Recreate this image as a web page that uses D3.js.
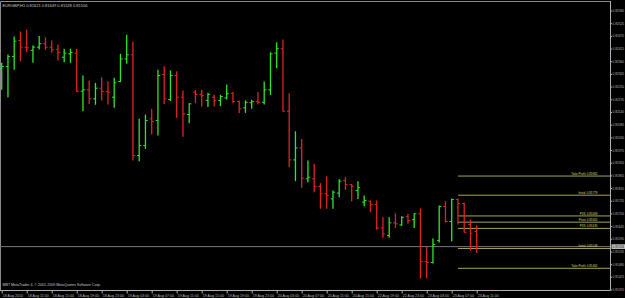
<!DOCTYPE html>
<html>
<head>
<meta charset="utf-8">
<script src="https://d3js.org/d3.v7.min.js"></script>
<style>
  body { margin: 0; background: #000; }
  text { font-family: "Liberation Sans", Arial, sans-serif; }
</style>
</head>
<body>
<div id="chart"></div>
<script>

// chart data (hourly EURGBP bars, 18 Aug 07:00 .. 23 Aug 11:00)
var symbol = "EURGBP,H1";
var copyright = "MBT MetaTrader 4, \u00a9 2001-2009 MetaQuotes Software Corp.";

var openPrices = [
  0.82327, 0.82337, 0.82380, 0.82450, 0.82421, 0.82407, 0.82421, 0.82436, 0.82421, 0.82410,
  0.82377, 0.82392, 0.82395, 0.82230, 0.82236, 0.82197, 0.82243, 0.82229, 0.82204, 0.82272,
  0.82370, 0.82388, 0.81951, 0.81994, 0.82110, 0.82103, 0.82302, 0.82194, 0.82298, 0.82204,
  0.82129, 0.82226, 0.82216, 0.82190, 0.82204, 0.82190, 0.82201, 0.82221, 0.82185, 0.82158,
  0.82180, 0.82185, 0.82182, 0.82236, 0.82395, 0.82414, 0.82143, 0.81932, 0.81984, 0.81850,
  0.81850, 0.81817, 0.81785, 0.81763, 0.81788, 0.81843, 0.81825, 0.81799, 0.81749, 0.81753,
  0.81739, 0.81637, 0.81604, 0.81659, 0.81650, 0.81687, 0.81673, 0.81698, 0.81491, 0.81487,
  0.81582, 0.81730, 0.81665, 0.81760, 0.81743, 0.81652, 0.81621
];
var highPrices = [
  0.82353, 0.82389, 0.82467, 0.82489, 0.82498, 0.82428, 0.82469, 0.82464, 0.82450, 0.82433,
  0.82414, 0.82414, 0.82414, 0.82298, 0.82276, 0.82266, 0.82291, 0.82272, 0.82288, 0.82392,
  0.82475, 0.82446, 0.82110, 0.82129, 0.82154, 0.82323, 0.82338, 0.82320, 0.82317, 0.82233,
  0.82178, 0.82236, 0.82236, 0.82223, 0.82216, 0.82214, 0.82259, 0.82226, 0.82190, 0.82190,
  0.82193, 0.82226, 0.82272, 0.82399, 0.82442, 0.82454, 0.82221, 0.82056, 0.82023, 0.81929,
  0.81915, 0.81831, 0.81861, 0.81799, 0.81848, 0.81857, 0.81828, 0.81840, 0.81778, 0.81756,
  0.81756, 0.81683, 0.81683, 0.81701, 0.81688, 0.81698, 0.81701, 0.81722, 0.81556, 0.81591,
  0.81734, 0.81753, 0.81765, 0.81765, 0.81747, 0.81673, 0.81649
];
var lowPrices = [
  0.82236, 0.82204, 0.82323, 0.82360, 0.82399, 0.82353, 0.82411, 0.82410, 0.82397, 0.82363,
  0.82356, 0.82353, 0.82226, 0.82143, 0.82175, 0.82171, 0.82190, 0.82172, 0.82158, 0.82269,
  0.82349, 0.81929, 0.81926, 0.81980, 0.82042, 0.82038, 0.82175, 0.82187, 0.82115, 0.82033,
  0.82091, 0.82178, 0.82164, 0.82161, 0.82164, 0.82165, 0.82194, 0.82178, 0.82135, 0.82136,
  0.82154, 0.82172, 0.82172, 0.82214, 0.82330, 0.82142, 0.81900, 0.81840, 0.81811, 0.81835,
  0.81792, 0.81720, 0.81720, 0.81720, 0.81770, 0.81802, 0.81753, 0.81763, 0.81731, 0.81705,
  0.81629, 0.81594, 0.81594, 0.81637, 0.81647, 0.81655, 0.81637, 0.81418, 0.81418, 0.81483,
  0.81574, 0.81660, 0.81579, 0.81652, 0.81617, 0.81539, 0.81528
];
var closePrices = [
  0.82337, 0.82380, 0.82447, 0.82421, 0.82418, 0.82421, 0.82436, 0.82421, 0.82410, 0.82398,
  0.82395, 0.82398, 0.82230, 0.82236, 0.82197, 0.82243, 0.82229, 0.82226, 0.82266, 0.82370,
  0.82388, 0.81951, 0.81994, 0.82103, 0.82099, 0.82298, 0.82197, 0.82298, 0.82204, 0.82132,
  0.82175, 0.82216, 0.82211, 0.82216, 0.82190, 0.82207, 0.82219, 0.82185, 0.82154, 0.82182,
  0.82185, 0.82182, 0.82236, 0.82392, 0.82414, 0.82143, 0.81932, 0.81984, 0.81853, 0.81857,
  0.81817, 0.81785, 0.81778, 0.81792, 0.81840, 0.81825, 0.81818, 0.81811, 0.81756, 0.81739,
  0.81637, 0.81611, 0.81659, 0.81655, 0.81683, 0.81669, 0.81698, 0.81491, 0.81487, 0.81565,
  0.81730, 0.81665, 0.81760, 0.81743, 0.81618, 0.81614, 0.81556
];

var timeTicks = [0, 4, 8, 12, 16, 20, 24, 28, 32, 36, 40, 44, 48, 52, 56, 60, 64, 68, 72, 76];
var timeLabels = ["18 Aug 2010", "18 Aug 11:00", "18 Aug 15:00", "18 Aug 19:00", "18 Aug 23:00",
  "19 Aug 03:00", "19 Aug 07:00", "19 Aug 11:00", "19 Aug 15:00", "19 Aug 19:00", "19 Aug 23:00",
  "20 Aug 03:00", "20 Aug 07:00", "20 Aug 11:00", "20 Aug 15:00", "22 Aug 19:00", "22 Aug 23:00",
  "23 Aug 03:00", "23 Aug 07:00", "23 Aug 11:00"];

var priceTicks = [0.82580, 0.82525, 0.82470, 0.82415, 0.82360, 0.82305, 0.82250, 0.82195,
  0.82140, 0.82085, 0.82030, 0.81975, 0.81920, 0.81865, 0.81810, 0.81755, 0.81700, 0.81645,
  0.81590, 0.81535, 0.81480, 0.81425, 0.81370];

// pivot / trade levels drawn from bar 73 to the right edge
var levelNames = ["Take Profit", "Initial", "P3S", "Pivot", "P3S", "Initial", "Take Profit"];
var levelValues = [0.81862, 0.81779, 0.81689, 0.81662, 0.81635, 0.81548, 0.81462];
var levelStart = 73;

var width = 625;
var height = 298;
var plotRight = 610.5;
var plotBottom = 290.5;

var x = d3.scaleLinear()
    .domain([0, openPrices.length - 1])
    .range([1.7, 476.7]);

var y = d3.scaleLinear()
    .domain([0.81370, 0.82580])
    .range([289.5, 10.5]);

var fmt = d3.format(".5f");

var svg = d3.select("#chart")
    .append("svg")
    .attr("width", width)
    .attr("height", height)
    .style("background", "#000")
    .style("display", "block");

// frame
svg.append("path")
    .attr("d", "M0.5," + plotBottom + "V1.5H" + plotRight)
    .attr("fill", "none")
    .attr("stroke", "#8a8a8a")
    .attr("stroke-width", 1);

// bid line
var lastClose = closePrices[closePrices.length - 1];
svg.append("line")
    .attr("x1", 0).attr("x2", plotRight)
    .attr("y1", y(lastClose)).attr("y2", y(lastClose))
    .attr("stroke", "#77778a")
    .attr("stroke-width", 1);

// level lines
var levels = svg.append("g").attr("class", "levels");
levelValues.forEach(function (v, i) {
    levels.append("line")
        .attr("x1", x(levelStart)).attr("x2", plotRight)
        .attr("y1", y(v)).attr("y2", y(v))
        .attr("stroke", "#a5a55a")
        .attr("stroke-width", 1);
    levels.append("text")
        .attr("x", 585.5)
        .attr("y", y(v) - 1.2)
        .attr("text-anchor", "end")
        .attr("font-size", "3px")
        .attr("fill", "#d8d870")
        .text(levelNames[i]);
    levels.append("text")
        .attr("x", 597.5)
        .attr("y", y(v) - 1.2)
        .attr("text-anchor", "end")
        .attr("font-size", "3px")
        .attr("fill", "#d8d870")
        .text(fmt(v));
});

// OHLC bars
var bars = svg.append("g").attr("class", "bars")
    .selectAll("g")
    .data(openPrices)
    .enter()
    .append("g")
    .attr("stroke", function (d, i) { return closePrices[i] >= d ? "#2ee62e" : "#e02424"; })
    .attr("stroke-width", 1.3);

bars.append("line")
    .attr("x1", function (d, i) { return x(i); })
    .attr("x2", function (d, i) { return x(i); })
    .attr("y1", function (d, i) { return y(highPrices[i]); })
    .attr("y2", function (d, i) { return y(lowPrices[i]); });

bars.append("line")
    .attr("x1", function (d, i) { return x(i) - 2.2; })
    .attr("x2", function (d, i) { return x(i); })
    .attr("y1", function (d) { return y(d); })
    .attr("y2", function (d) { return y(d); })
    .attr("stroke-width", 1);

bars.append("line")
    .attr("x1", function (d, i) { return x(i); })
    .attr("x2", function (d, i) { return x(i) + 2.2; })
    .attr("y1", function (d, i) { return y(closePrices[i]); })
    .attr("y2", function (d, i) { return y(closePrices[i]); })
    .attr("stroke-width", 1);

// price axis
var yAxis = d3.axisRight(y)
    .tickValues(priceTicks)
    .tickSize(1.5)
    .tickPadding(0.5)
    .tickFormat(fmt);

var gy = svg.append("g")
    .attr("transform", "translate(" + plotRight + ",0)")
    .call(yAxis);
gy.select(".domain").remove();
gy.selectAll("line").attr("stroke", "#b0b0b0");
gy.selectAll("text").attr("font-size", "3.2px").attr("fill", "#b8b8b8");

svg.append("line")
    .attr("x1", plotRight).attr("x2", plotRight)
    .attr("y1", 1).attr("y2", plotBottom)
    .attr("stroke", "#b0b0b0");

// current price marker on the axis
svg.append("rect")
    .attr("x", plotRight + 1)
    .attr("y", y(lastClose) - 2.3)
    .attr("width", 13.5)
    .attr("height", 4.6)
    .attr("fill", "#c8c8c8");
svg.append("text")
    .attr("x", plotRight + 2)
    .attr("y", y(lastClose) + 1.2)
    .attr("font-size", "3.2px")
    .attr("fill", "#000")
    .text(fmt(lastClose));

// time axis
var xAxis = d3.axisBottom(x)
    .tickValues(timeTicks)
    .tickSize(3)
    .tickPadding(0.5)
    .tickFormat(function (d, i) { return timeLabels[i]; });

var gx = svg.append("g")
    .attr("transform", "translate(0," + plotBottom + ")")
    .call(xAxis);
gx.select(".domain").remove();
gx.selectAll("line").attr("stroke", "#b0b0b0");
gx.selectAll("text")
    .attr("text-anchor", "start")
    .attr("dx", "0.6")
    .attr("font-size", "3.6px")
    .attr("fill", "#b8b8b8");

svg.append("line")
    .attr("x1", 0).attr("x2", plotRight)
    .attr("y1", plotBottom).attr("y2", plotBottom)
    .attr("stroke", "#b0b0b0");

// title + copyright
svg.append("text")
    .attr("x", 2.5)
    .attr("y", 6.5)
    .attr("font-size", "4px")
    .attr("fill", "#c8c8c8")
    .text(symbol + "  " + [openPrices, highPrices, lowPrices, closePrices].map(function (a) {
        return fmt(a[a.length - 1]);
    }).join(" "));

svg.append("text")
    .attr("x", 2.5)
    .attr("y", 285.5)
    .attr("font-size", "3.6px")
    .attr("fill", "#c8c8c8")
    .text(copyright);

</script>
</body>
</html>
